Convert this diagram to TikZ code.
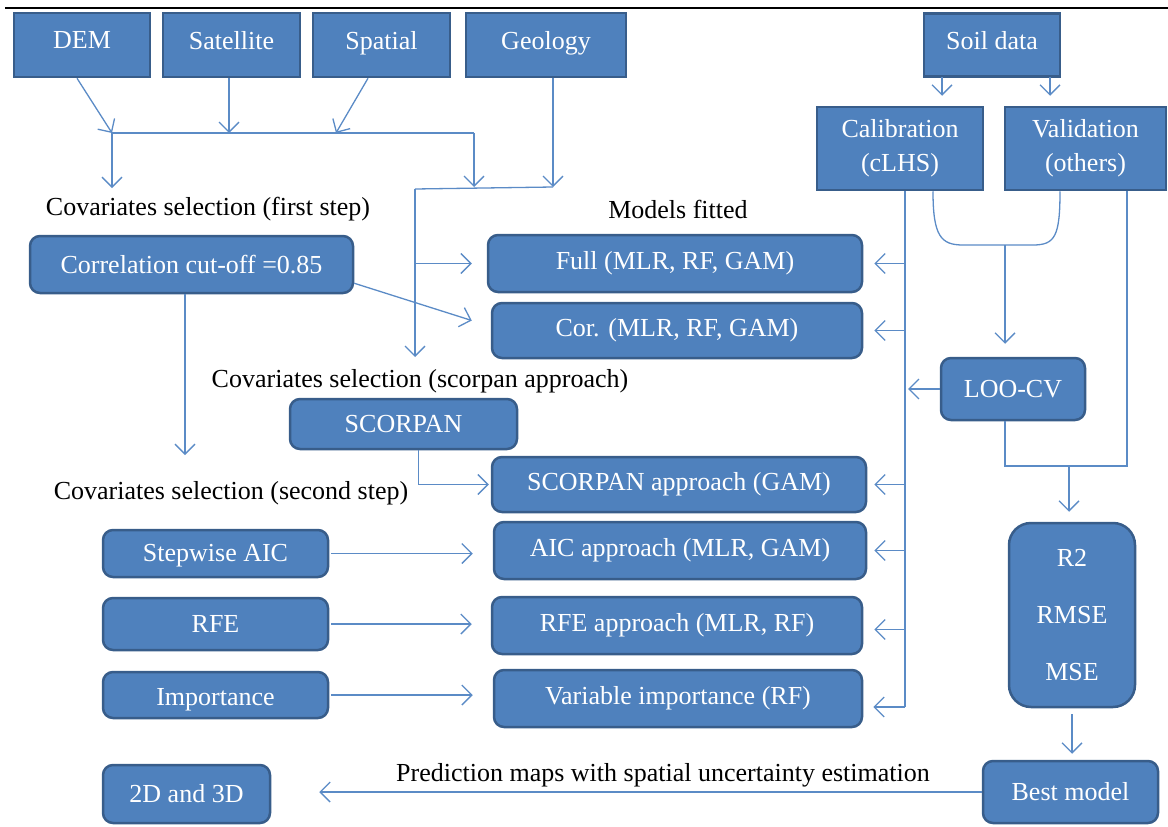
\documentclass[tikz,border=0pt]{standalone}
\usepackage{fontspec}
\setmainfont{Liberation Serif}
\usetikzlibrary{arrows.meta}

\definecolor{boxblue}{HTML}{4F81BD}
\definecolor{boxedge}{HTML}{385D8A}
\definecolor{linkblue}{HTML}{5B8BC6}

\tikzset{
  sqbox/.style={draw=boxedge, line width=2.5pt, fill=boxblue, text=white, inner sep=0pt,
    font=\fontsize{26}{30}\selectfont},
  rbox/.style={sqbox, rounded corners=10pt},
  lbl/.style={font=\fontsize{26}{30}\selectfont, inner sep=0pt},
  link/.style={draw=linkblue, line width=1.3pt},
}

\begin{document}
\begin{tikzpicture}[x=1pt,y=-1pt,>={Straight Barb[length=10pt,width=20pt]}]
\useasboundingbox (0,0) rectangle (1168,827);
\draw[line width=2pt] (5,8) -- (1168,8);

% data sources
\node (dem) at (82,45) [sqbox, minimum width=136pt, minimum height=64pt, text depth=10pt] {DEM};
\node (sat) at (231.5,45) [sqbox, minimum width=137pt, minimum height=64pt, text depth=10pt] {Satellite};
\node (spa) at (381.5,45) [sqbox, minimum width=137pt, minimum height=64pt, text depth=10pt] {Spatial};
\node (geo) at (546,45) [sqbox, minimum width=160pt, minimum height=64pt, text depth=10pt] {Geology};
\node (soil) at (992,45) [sqbox, minimum width=136pt, minimum height=63pt, text depth=10pt] {Soil data};
\node (cal) at (900,148.5) [sqbox, minimum width=166pt, minimum height=83pt, align=center,
  font=\fontsize{26}{34}\selectfont] {Calibration\\(cLHS)};
\node (val) at (1085.5,148.5) [sqbox, minimum width=161pt, minimum height=83pt, align=center,
  font=\fontsize{26}{34}\selectfont] {Validation\\(others)};

% labels
\node (first) at (208,209) [lbl] {Covariates selection (first step)};
\node (fitted) at (678,209) [lbl] {Models fitted};
\node (scorlbl) at (420,381) [lbl] {Covariates selection (scorpan approach)};
\node (second) at (231,493) [lbl] {Covariates selection (second step)};
\node (pred) at (663,775) [lbl] {Prediction maps with spatial uncertainty estimation};

% selection methods
\node (corr) at (191.5,264.5) [rbox, minimum width=323pt, minimum height=57pt] {Correlation cut-off =0.85};
\node (scor) at (403.5,424) [rbox, minimum width=227pt, minimum height=50pt] {SCORPAN};
\node (stepaic) at (215.5,553.5) [rbox, minimum width=225pt, minimum height=47pt, text height=22pt] {Stepwise AIC};
\node (rfe) at (215.5,624) [rbox, minimum width=225pt, minimum height=52pt] {RFE};
\node (imp) at (215.5,695) [rbox, minimum width=225pt, minimum height=46pt, text height=26pt] {Importance};
\node (maps) at (186.5,794) [rbox, minimum width=167pt, minimum height=58pt] {2D and 3D};

% models
\node (full) at (675,263.5) [rbox, minimum width=374pt, minimum height=57pt] {Full (MLR, RF, GAM)};
\node (cor) at (677,330.5) [rbox, minimum width=370pt, minimum height=55pt] {Cor. (MLR, RF, GAM)};
\node (sapp) at (679,484.5) [rbox, minimum width=374pt, minimum height=55pt] {SCORPAN approach (GAM)};
\node (aic) at (680,550.5) [rbox, minimum width=372pt, minimum height=57pt] {AIC approach (MLR, GAM)};
\node (rfeapp) at (677,625.5) [rbox, minimum width=370pt, minimum height=57pt] {RFE approach (MLR, RF)};
\node (vimp) at (678,698.5) [rbox, minimum width=368pt, minimum height=57pt] {Variable importance (RF)};

% validation
\node (loo) at (1013,389) [rbox, minimum width=144pt, minimum height=62pt] {LOO-CV};
\node (perf) at (1072,615) [rbox, rounded corners=22pt, minimum width=126pt, minimum height=184pt,
  align=center, font=\fontsize{26}{57}\selectfont] {R2\\RMSE\\MSE};
\node (best) at (1070.5,792) [rbox, minimum width=175pt, minimum height=62pt] {Best model};

% covariates merge
\coordinate (jl) at (112,133);
\coordinate (jr) at (474,133);
\coordinate (js) at (336,133);
\coordinate (c1) at (112,188);
\coordinate (c2) at (474,187);
\coordinate (c3) at (553,187);
\coordinate (c4) at (415,189);
\coordinate (c5) at (415,357);
\coordinate (c6) at (185,455);
\draw[link,->] ([xshift=-5pt]dem.south) -- (jl);
\draw[link,->] ([xshift=-2.5pt]sat.south) -- ([xshift=-2.5pt]sat.south |- jl);
\draw[link,->] ([xshift=-13.5pt]spa.south) -- (js);
\draw[link] (jl) -- (jr);
\draw[link,->] (jl) -- (c1);
\draw[link,->] (jr) -- (c2);
\draw[link,->] ([xshift=7pt]geo.south) -- (c3);
\draw[link] (c4) -- (c3);
\draw[link,->] (c4) -- (c5);
\draw[link,->,shorten >=15pt] (full.west -| c4) -- (full.west);
\draw[link,->] ([yshift=11pt]corr.south east) -- ([xshift=-19pt,yshift=10pt]cor.west);
\draw[link,->] ([xshift=-6.5pt]corr.south) -- (c6);
\draw[link,->] ([xshift=15pt]scor.south) |- ([xshift=-2pt]sapp.west);
\draw[link,->,shorten >=20pt] ([xshift=2pt]stepaic.east) -- (stepaic.east -| aic.west);
\draw[link,->,shorten >=19pt] ([xshift=2pt]rfe.east) -- (rfe.east -| rfeapp.west);
\draw[link,->,shorten >=20pt] ([xshift=2pt]imp.east) -- (imp.east -| vimp.west);

% soil data split
\coordinate (s1) at (942,77);
\coordinate (s2) at (1050,77);
\draw[link,->,shorten >=10pt] (s1) -- (s1 |- cal.north);
\draw[link,->,shorten >=10pt] (s2) -- (s2 |- val.north);

% calibration to models
\coordinate (rbot) at (905,707);
\draw[link] ([xshift=5pt]cal.south) -- (rbot);
\draw[link,->,shorten >=10pt] (rbot) -- (rbot -| vimp.east);
\draw[link,->,shorten >=11pt] (full.east -| rbot) -- (full.east);
\draw[link,->,shorten >=11pt] (cor.east -| rbot) -- (cor.east);
\draw[link,->,shorten >=7pt] (sapp.east -| rbot) -- (sapp.east);
\draw[link,->,shorten >=7pt] (aic.east -| rbot) -- (aic.east);
\draw[link,->,shorten >=11pt] ([yshift=-4pt]rfeapp.east -| rbot) -- ([yshift=-4pt]rfeapp.east);
\draw[link,->,shorten >=3pt] (loo.west) -- (loo.west -| rbot);

% cross validation
\coordinate (m1) at (963,245);
\coordinate (m2) at (1033,245);
\coordinate (mm) at (1005,245);
\draw[link] ([xshift=33pt]cal.south) .. controls +(0,45) and +(-22,0) .. (m1) -- (m2)
  .. controls +(22,0) and +(0,45) .. ([xshift=-25.5pt]val.south);
\draw[link,->,shorten >=13pt] (mm) -- (loo.north -| mm);
\coordinate (v1) at (1127,466);
\coordinate (v2) at (1005,466);
\coordinate (v3) at (1069,466);
\draw[link] ([xshift=41.5pt]val.south) -- (v1) -- (v2) -- ([xshift=-8pt]loo.south);
\draw[link,->,shorten >=10pt] (v3) -- (perf.north -| v3);
\draw[link,->,shorten <=6pt,shorten >=6pt] (perf.south) -- (perf.south |- best.north);
\draw[link,->,shorten >=48pt] (best.west) -- (best.west -| maps.east);
\end{tikzpicture}
\end{document}
